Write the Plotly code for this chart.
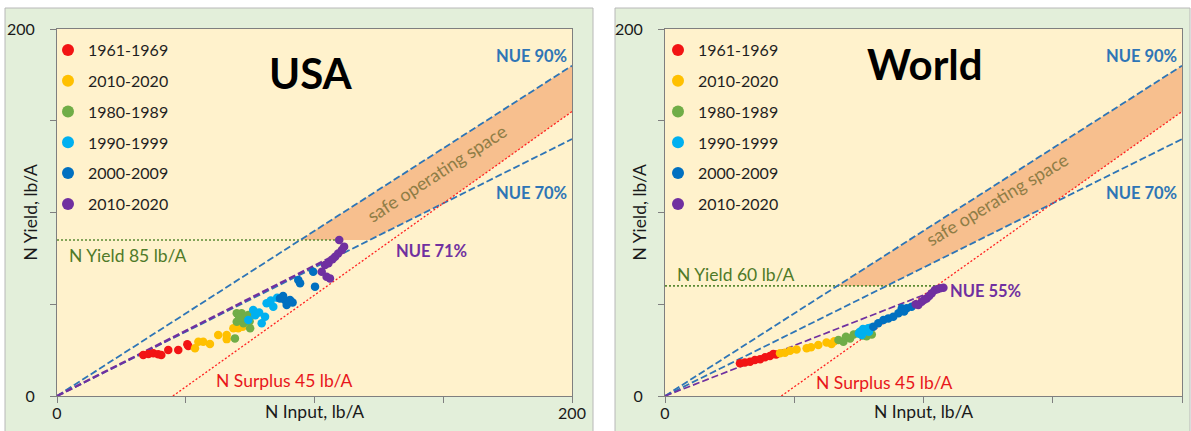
import plotly.graph_objects as go

W, H = 1191, 431
FONT = "Lato"

# ---------------- data ----------------
decade_labels = ["1961-1969", "2010-2020", "1980-1989", "1990-1999", "2000-2009", "2010-2020"]
decade_colors = ["#f21414", "#ffc000", "#70ad47", "#00b0f0", "#0070c0", "#7030a0"]

# USA  (N input, N yield), lb/A
usa_60s_x = [33.5, 35.5, 37.4, 39.3, 40.5, 43.2, 47.1, 51.0, 50.6]
usa_60s_y = [22.3, 22.9, 23.3, 22.7, 22.3, 25.1, 25.1, 27.2, 28.2]
usa_70s_x = [53.6, 54.9, 56.8, 59.4, 62.6, 65.9, 65.9, 68.5, 70.4, 72.1]
usa_70s_y = [26.0, 29.6, 29.6, 28.3, 33.2, 33.2, 31.0, 36.9, 36.9, 37.8]
usa_80s_x = [69.8, 71.7, 74.3, 69.8, 72.4, 75.0, 69.1, 73.0, 70.8, 74.8]
usa_80s_y = [45.1, 45.1, 44.1, 40.5, 39.6, 36.9, 31.4, 42.5, 42.8, 40.8]
usa_90s_x = [74.3, 76.2, 79.5, 81.4, 84.0, 80.8, 77.0, 83.0, 85.5, 78.5]
usa_90s_y = [41.4, 46.9, 39.6, 50.5, 48.7, 43.2, 44.0, 52.0, 53.5, 45.5]
usa_00s_x = [86.6, 88.5, 90.5, 89.2, 93.7, 94.4, 99.5, 100.2, 87.8, 91.5]
usa_00s_y = [53.2, 52.3, 52.3, 49.6, 63.2, 61.4, 67.7, 59.6, 54.5, 51.0]
usa_10s_x = [102.8, 104.1, 105.4, 104.7, 106.0, 108.0, 109.2, 110.6, 111.5, 109.6, 107.0]
usa_10s_y = [67.7, 71.4, 72.3, 65.0, 64.1, 75.9, 77.7, 79.6, 81.4, 85.0, 74.5]

# World
wld_60s_x = [29.0, 30.9, 32.9, 34.8, 36.8, 38.7, 40.6, 41.9, 43.0]
wld_60s_y = [17.8, 18.3, 18.7, 19.6, 20.0, 21.1, 21.8, 22.9, 22.6]
wld_70s_x = [44.5, 46.4, 48.4, 50.9, 54.8, 56.5, 59.3, 62.5, 64.4, 65.5]
wld_70s_y = [23.3, 23.6, 24.7, 25.4, 26.0, 26.6, 27.8, 29.1, 28.3, 29.8]
wld_80s_x = [67.1, 69.0, 70.0, 71.6, 73.0, 74.8, 76.5, 78.0, 79.3, 80.0]
wld_80s_y = [30.5, 29.6, 32.3, 31.4, 33.5, 34.2, 33.0, 32.5, 34.2, 33.5]
wld_90s_x = [75.4, 77.4, 78.6, 76.1, 76.8, 75.0, 77.9, 78.9, 76.6, 79.5]
wld_90s_y = [35.0, 36.0, 36.9, 33.2, 34.8, 34.0, 35.5, 35.0, 36.5, 37.2]
wld_00s_x = [80.6, 82.5, 84.5, 86.4, 88.3, 90.3, 91.6, 93.5, 95.4, 92.5]
wld_00s_y = [37.8, 39.6, 41.4, 42.3, 43.2, 45.1, 47.8, 47.8, 48.7, 46.0]
wld_10s_x = [98.0, 99.3, 101.2, 102.2, 103.2, 104.4, 105.3, 106.4, 107.7, 100.3, 97.0]
wld_10s_y = [49.6, 51.4, 53.2, 54.5, 56.0, 57.8, 58.2, 58.7, 59.0, 52.5, 50.0]

nue_bounds = [0.9, 0.7]          # NUE 90% and 70%
surplus_limit = 45                # N surplus 45 lb/A
usa_yield_target = 85
wld_yield_target = 60
usa_nue = 0.71
wld_nue = 0.55
usa_nue_end = 112
wld_nue_end = 107.7
axis_max = 200

usa_sets = [(usa_60s_x, usa_60s_y), (usa_70s_x, usa_70s_y), (usa_80s_x, usa_80s_y),
            (usa_90s_x, usa_90s_y), (usa_00s_x, usa_00s_y), (usa_10s_x, usa_10s_y)]
wld_sets = [(wld_60s_x, wld_60s_y), (wld_70s_x, wld_70s_y), (wld_80s_x, wld_80s_y),
            (wld_90s_x, wld_90s_y), (wld_00s_x, wld_00s_y), (wld_10s_x, wld_10s_y)]

# ---------------- layout geometry (pixels) ----------------
def px_x(p):
    return p / W

def px_y(p):
    return 1 - p / H

panels = [
    dict(name="USA", sets=usa_sets, target=usa_yield_target, nue=usa_nue, nue_end=usa_nue_end,
         xa="x", ya="y", dom=(57, 572), outer=(5, 593), legend="legend", legx=48, ytitle=30,
         title_xy=(98.6, 176), nue_lab=("NUE 71%", 145.6, 79, "center"),
         yield_lab=(4, 76.5), surplus_lab=(88.5, 8.2), safe_xy=(147.5, 121.5), safe_ang=-33),
    dict(name="World", sets=wld_sets, target=wld_yield_target, nue=wld_nue, nue_end=wld_nue_end,
         xa="x2", ya="y2", dom=(665, 1182), outer=(615, 1190), legend="legend2", legx=658, ytitle=639,
         title_xy=(100.6, 181), nue_lab=("NUE 55%", 109.5, 57.2, "left"),
         yield_lab=(4, 66.0), surplus_lab=(85.1, 7.6), safe_xy=(128.5, 107.4), safe_ang=-31),
]

fig = go.Figure()
shapes = []
annotations = []

plot_top, plot_bot = 29, 396
LAB = 17.5

for i, p in enumerate(panels):
    xa, ya = p["xa"], p["ya"]
    t = p["target"]
    hi, lo = nue_bounds
    # safe operating space polygon
    sx = [t / hi, axis_max, axis_max, surplus_limit / (1 - lo), t / lo, t / hi]
    sy = [t, hi * axis_max, axis_max - surplus_limit, lo * surplus_limit / (1 - lo), t, t]
    fig.add_trace(go.Scatter(x=sx, y=sy, mode="lines", fill="toself", fillcolor="#f7bf8e",
                             line=dict(width=0), xaxis=xa, yaxis=ya, showlegend=False,
                             hoverinfo="skip"))
    # yield target dotted line (to the latest / highest point)
    last_x = p["sets"][-1][0][p["sets"][-1][1].index(max(p["sets"][-1][1]))]
    fig.add_trace(go.Scatter(x=[0, last_x], y=[t, t], mode="lines",
                             line=dict(color="#5b8a33", width=1.6, dash="2px,2px"),
                             xaxis=xa, yaxis=ya, showlegend=False, hoverinfo="skip"))
    # NUE bounds
    for b in nue_bounds:
        fig.add_trace(go.Scatter(x=[0, axis_max], y=[0, b * axis_max], mode="lines",
                                 line=dict(color="#2e75b6", width=1.8, dash="7px,3px"),
                                 xaxis=xa, yaxis=ya, showlegend=False, hoverinfo="skip"))
    # surplus line
    fig.add_trace(go.Scatter(x=[surplus_limit, axis_max], y=[0, axis_max - surplus_limit],
                             mode="lines", line=dict(color="#ff2020", width=1.3, dash="2px,2px"),
                             xaxis=xa, yaxis=ya, showlegend=False, hoverinfo="skip"))
    # actual NUE line
    fig.add_trace(go.Scatter(x=[0, p["nue_end"]], y=[0, p["nue"] * p["nue_end"]], mode="lines",
                             line=dict(color="#7030a0", width=2.4 if i == 0 else 1.7, dash="7px,3px"),
                             xaxis=xa, yaxis=ya, showlegend=False, hoverinfo="skip"))
    # data points
    for k, (dx, dy) in enumerate(p["sets"]):
        fig.add_trace(go.Scatter(x=dx, y=dy, mode="markers", name=decade_labels[k],
                                 marker=dict(color=decade_colors[k], size=8.5),
                                 xaxis=xa, yaxis=ya, legend=p["legend"],
                                 legendgroup=f"{p['name']}{k}", showlegend=True))

    # backgrounds
    o0, o1 = p["outer"]
    shapes.append(dict(type="rect", xref="paper", yref="paper", layer="below",
                       x0=px_x(o0), x1=px_x(o1), y0=-0.02, y1=px_y(8),
                       fillcolor="#e3efda", line=dict(color="#b8b8b8", width=1)))
    d0, d1 = p["dom"]
    shapes.append(dict(type="rect", xref="paper", yref="paper", layer="below",
                       x0=px_x(d0), x1=px_x(d1), y0=px_y(plot_bot), y1=px_y(plot_top),
                       fillcolor="#fff2cc", line=dict(width=0)))

    axref, ayref = xa, ya
    # text labels
    annotations += [
        dict(x=p["title_xy"][0], y=p["title_xy"][1], xref=axref, yref=ayref, text=f"<b>{p['name']}</b>",
             showarrow=False, font=dict(family=FONT, size=42, color="#000000")),
        dict(x=199, y=185.5, xref=axref, yref=ayref, text="<b>NUE 90%</b>", xanchor="right",
             showarrow=False, font=dict(family=FONT, size=16.5, color="#2e75b6")),
        dict(x=199, y=110.5, xref=axref, yref=ayref, text="<b>NUE 70%</b>", xanchor="right",
             showarrow=False, font=dict(family=FONT, size=16.5, color="#2e75b6")),
        dict(x=p["nue_lab"][1], y=p["nue_lab"][2], xref=axref, yref=ayref,
             text=f"<b>{p['nue_lab'][0]}</b>", xanchor=p["nue_lab"][3],
             showarrow=False, font=dict(family=FONT, size=16.5, color="#7030a0")),
        dict(x=p["yield_lab"][0], y=p["yield_lab"][1], xref=axref, yref=ayref,
             text=f"N Yield {t} lb/A", xanchor="left",
             showarrow=False, font=dict(family=FONT, size=LAB, color="#4f7a28")),
        dict(x=p["surplus_lab"][0], y=p["surplus_lab"][1], xref=axref, yref=ayref,
             text=f"N Surplus {surplus_limit} lb/A",
             showarrow=False, font=dict(family=FONT, size=LAB, color="#e8161b")),
        dict(x=p["safe_xy"][0], y=p["safe_xy"][1], xref=axref, yref=ayref,
             text="safe operating space", textangle=p["safe_ang"],
             showarrow=False, font=dict(family=FONT, size=18, color="#8f7d46")),
        dict(x=px_x(p["ytitle"]), y=px_y((plot_top + plot_bot) / 2), xref="paper", yref="paper",
             xanchor="center", yanchor="middle", text="N Yield, lb/A", textangle=-90,
             showarrow=False, font=dict(family=FONT, size=LAB, color="#1a1a1a")),
        dict(x=px_x((d0 + d1) / 2), y=px_y(411), xref="paper", yref="paper",
             xanchor="center", yanchor="middle", text="N Input, lb/A",
             showarrow=False, font=dict(family=FONT, size=LAB, color="#1a1a1a")),
    ]

tickvals = [0, 50, 100, 150, 200]
ticktext = ["0", "", "", "", "200"]
axis_common = dict(range=[0, axis_max], tickvals=tickvals, ticktext=ticktext, showgrid=False,
                   zeroline=False, showline=True, mirror=True, linecolor="#7f7f7f", linewidth=1,
                   ticks="outside", ticklen=6, tickcolor="#7f7f7f", automargin=False,
                   tickfont=dict(family=FONT, size=16, color="#1a1a1a"), fixedrange=True)

yd = [px_y(plot_bot), px_y(plot_top)]
legend_common = dict(font=dict(family=FONT, size=16, color="#1f1f1f"), bgcolor="rgba(0,0,0,0)",
                     tracegroupgap=7, xanchor="left", yanchor="top", itemsizing="constant")

fig.update_layout(
    width=W, height=H, margin=dict(l=0, r=0, t=0, b=0, pad=0, autoexpand=False),
    paper_bgcolor="#ffffff", plot_bgcolor="rgba(0,0,0,0)",
    xaxis=dict(domain=[px_x(57), px_x(572)], anchor="y", ticklabelstandoff=-3, **axis_common),
    yaxis=dict(domain=yd, anchor="x", ticklabelstandoff=12, **axis_common),
    xaxis2=dict(domain=[px_x(665), px_x(1182)], anchor="y2", ticklabelstandoff=-3, **axis_common),
    yaxis2=dict(domain=yd, anchor="x2", ticklabelstandoff=12, **axis_common),
    legend=dict(x=px_x(panels[0]["legx"]), y=px_y(33), **legend_common),
    legend2=dict(x=px_x(panels[1]["legx"]), y=px_y(33), **legend_common),
    shapes=shapes, annotations=annotations, showlegend=True,
)

fig.write_html("out.html", config={"displayModeBar": False},
               post_script="document.body.style.margin='0px';document.body.style.overflow='hidden';")
